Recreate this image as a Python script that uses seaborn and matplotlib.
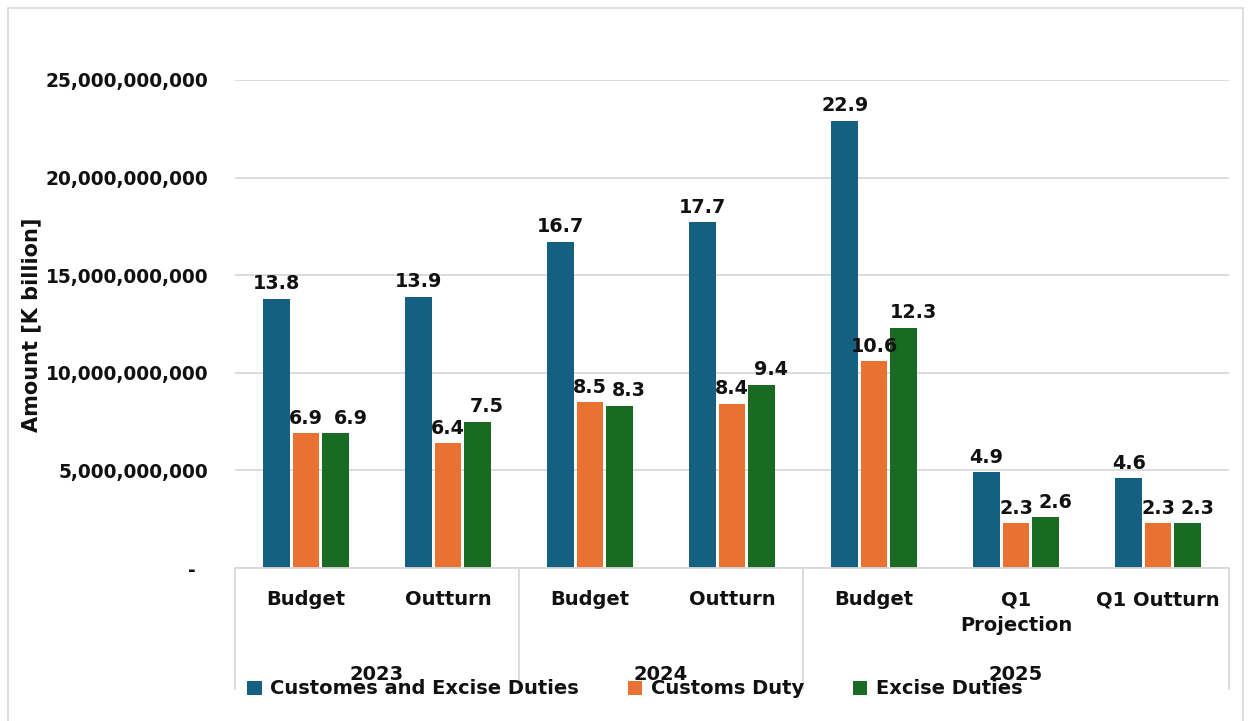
import matplotlib
matplotlib.use("Agg")
import matplotlib.pyplot as plt
from matplotlib.patches import Rectangle, Patch
import seaborn as sns
import pandas as pd

# ---- data ----
periods = ["2023 Budget", "2023 Outturn", "2024 Budget", "2024 Outturn",
           "2025 Budget", "2025 Q1 Projection", "2025 Q1 Outturn"]
tick_labels = ["Budget", "Outturn", "Budget", "Outturn", "Budget", "Q1\nProjection", "Q1 Outturn"]
years = ["2023", "2024", "2025"]
year_spans = [(0, 1), (2, 3), (4, 6)]
series = ["Customes and Excise Duties", "Customs Duty", "Excise Duties"]
customs_excise = [13.8e9, 13.9e9, 16.7e9, 17.7e9, 22.9e9, 4.9e9, 4.6e9]
customs_duty = [6.9e9, 6.4e9, 8.5e9, 8.4e9, 10.6e9, 2.3e9, 2.3e9]
excise_duties = [6.9e9, 7.5e9, 8.3e9, 9.4e9, 12.3e9, 2.6e9, 2.3e9]
colors = ["#156082", "#E97132", "#196B24"]

rows = []
for s, vals in zip(series, [customs_excise, customs_duty, excise_duties]):
    for p, v in zip(periods, vals):
        rows.append({"period": p, "series": s, "value": v})
df = pd.DataFrame(rows)

sns.set_style("white")
plt.rcParams["font.family"] = ["DejaVu Sans"]
plt.rcParams["font.weight"] = "bold"
TXT = "#111111"
GRID = "#d9d9d9"

W, H = 1250, 721
fig = plt.figure(figsize=(W / 100, H / 100), dpi=100)
ax = fig.add_axes([235 / W, 1 - 568 / H, (1229 - 235) / W, (568 - 80) / H])

sns.barplot(data=df, x="period", y="value", hue="series", order=periods,
            hue_order=series, palette=colors, saturation=1, width=0.62, gap=0.1,
            linewidth=0, ax=ax, legend=False)

ax.set_xlim(-0.5, 6.5)
ax.set_ylim(0, 25e9)
ax.set_yticks([0, 5e9, 10e9, 15e9, 20e9, 25e9])
ax.set_yticklabels(["-  "] + [f"{int(v):,}" for v in [5e9, 10e9, 15e9, 20e9, 25e9]],
                   fontsize=13.4, fontweight="bold", color=TXT)
ax.tick_params(axis="y", length=0, pad=19)
ax.set_xticks(range(len(periods)))
ax.set_xticklabels(tick_labels, fontsize=14, fontweight="bold", color=TXT)
for t in ax.get_xticklabels():
    t.set_linespacing(1.45)
ax.tick_params(axis="x", length=0, pad=16)
ax.set_xlabel("")
ax.set_ylabel("")
ax.yaxis.grid(True, color=GRID, linewidth=1.3)
ax.set_axisbelow(True)
for sp in ["top", "right", "left"]:
    ax.spines[sp].set_visible(False)
ax.spines["bottom"].set_color(GRID)
ax.spines["bottom"].set_linewidth(1.3)

# bar labels (the excise-duty labels sit nudged to the right, as in the source)
label_dx = [0, 0, 7]
for k, cont in enumerate(ax.containers):
    vals = [b.get_height() for b in cont]
    anns = ax.bar_label(cont, labels=[f"{v / 1e9:.1f}" for v in vals], padding=4,
                        fontsize=13.8, fontweight="bold", color=TXT)
    for i, a in enumerate(anns):
        dx = label_dx[k] + (4 if (k == 2 and i == 0) else 0)
        a.xyann = (dx, 4)

# multi-level category axis
tr = ax.get_xaxis_transform()
bottom_frac = (568 - 689) / (568 - 80)
for xb in [-0.5, 1.5, 3.5, 6.5]:
    ax.plot([xb, xb], [0, bottom_frac], color=GRID, linewidth=1.3,
            transform=tr, clip_on=False)
year_frac = (568 - 674) / (568 - 80)
for yr, (a, b) in zip(years, year_spans):
    ax.text((a + b) / 2, year_frac, yr, transform=tr, ha="center", va="center",
            fontsize=14, fontweight="bold", color=TXT)

fig.text(31 / W, 1 - 325 / H, "Amount [K billion]", rotation=90, ha="center",
         va="center", fontsize=15, fontweight="bold", color=TXT)

handles = [Patch(facecolor=c, edgecolor="none") for c in colors]
fig.legend(handles, series, loc="center left", bbox_to_anchor=(247 / W, 1 - 689 / H),
           ncol=3, frameon=False, handlelength=0.75, handleheight=0.75,
           handletextpad=0.45, columnspacing=2.5, borderpad=0, borderaxespad=0,
           labelcolor=TXT, prop={"weight": "bold", "size": 14})

fig.patches.append(Rectangle((8 / W, -0.02), (1243 - 8) / W, 1 - 8 / H + 0.02,
                             transform=fig.transFigure, fill=False,
                             edgecolor=GRID, linewidth=1.2))

fig.savefig("out.png", dpi=100, facecolor="white")
